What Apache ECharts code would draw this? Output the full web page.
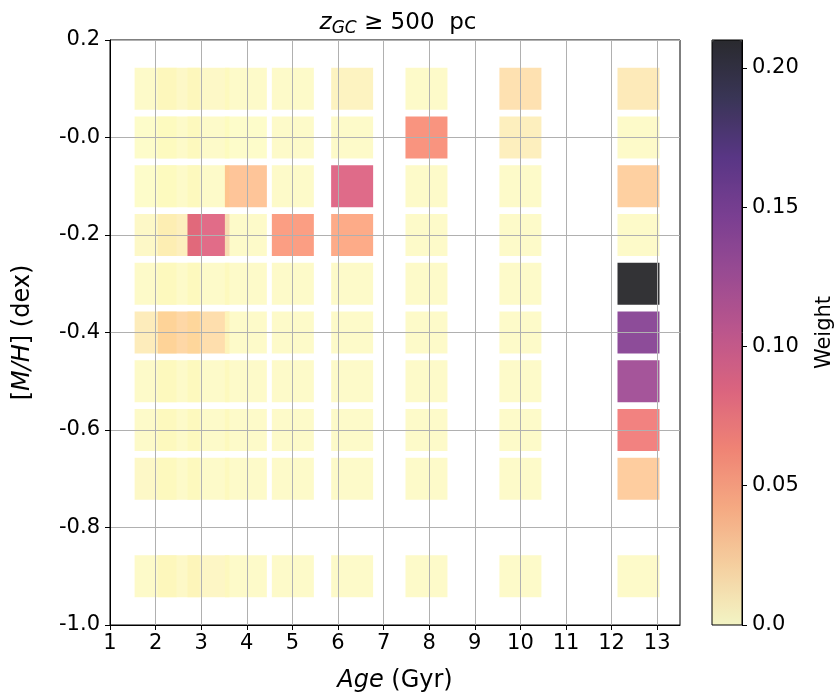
<!DOCTYPE html>
<html>
<head>
<meta charset="utf-8">
<script src="https://cdn.jsdelivr.net/npm/echarts@6/dist/echarts.min.js"></script>
<style>
  html, body { margin: 0; padding: 0; background: #fff; }
  #chart { width: 840px; height: 695px; }
</style>
</head>
<body>
<div id="chart"></div>
<script>
// Stellar population weights on the age / metallicity grid (z_GC >= 500 pc)
const ages = [2.0, 2.51, 3.16, 3.98, 5.01, 6.31, 7.94, 10.0, 12.59];
const metallicities = [0.1, 0.0, -0.1, -0.2, -0.3, -0.4, -0.5, -0.6, -0.7, -0.9];

// one row per metallicity, one entry per age
const weights = [
  [0.002, 0.003, 0.003, 0.002, 0.002, 0.006, 0.002, 0.016, 0.011],
  [0.001, 0.002, 0.002, 0.001, 0.002, 0.002, 0.059, 0.008, 0.002],
  [0.001, 0.002, 0.002, 0.032, 0.002, 0.088, 0.002, 0.002, 0.026],
  [0.003, 0.008, 0.086, 0.002, 0.053, 0.046, 0.002, 0.002, 0.002],
  [0.002, 0.002, 0.002, 0.002, 0.002, 0.002, 0.002, 0.002, 0.210],
  [0.010, 0.022, 0.018, 0.002, 0.002, 0.002, 0.002, 0.002, 0.140],
  [0.002, 0.002, 0.002, 0.002, 0.002, 0.002, 0.002, 0.002, 0.125],
  [0.002, 0.002, 0.002, 0.002, 0.002, 0.002, 0.002, 0.002, 0.070],
  [0.003, 0.002, 0.002, 0.002, 0.002, 0.002, 0.002, 0.002, 0.027],
  [0.002, 0.003, 0.004, 0.002, 0.002, 0.002, 0.002, 0.002, 0.002]
];

const xTicks = [1, 2, 3, 4, 5, 6, 7, 8, 9, 10, 11, 12, 13];
const yTicks = [-1.0, -0.8, -0.6, -0.4, -0.2, 0.0, 0.2];
const weightTicks = [0, 0.05, 0.10, 0.15, 0.20];
const weightMax = 0.21;

// reversed magma colormap, drawn at 80% opacity
const magmaR = ['#fcfdbf', '#fecf92', '#fe9f6d', '#f7705c', '#de4968', '#b73779',
                '#8c2981', '#641a80', '#3b0f70', '#140e36', '#000004'];
function withAlpha(hex, a) {
  const r = parseInt(hex.slice(1, 3), 16), g = parseInt(hex.slice(3, 5), 16), b = parseInt(hex.slice(5, 7), 16);
  return 'rgba(' + r + ',' + g + ',' + b + ',' + a + ')';
}

// points in ascending age within each row so younger squares sit underneath
const points = [];
metallicities.forEach((m, i) => {
  ages.forEach((a, j) => { points.push([a, m, weights[i][j]]); });
});

const FONT = 'DejaVu Sans';
const chart = echarts.init(document.getElementById('chart'));

chart.setOption({
  animation: false,
  backgroundColor: '#fff',
  textStyle: { fontFamily: FONT },
  title: {
    text: '{i|z}{sub|GC}{n| ≥ 500  pc}',
    left: 393, top: 5, textAlign: 'center',
    textStyle: {
      fontWeight: 'normal',
      rich: {
        i: { fontFamily: FONT, fontStyle: 'italic', fontWeight: 'normal', fontSize: 23, color: '#000' },
        sub: { fontFamily: FONT, fontStyle: 'italic', fontWeight: 'normal', fontSize: 17, color: '#000', padding: [10, 0, 0, 0] },
        n: { fontFamily: FONT, fontWeight: 'normal', fontSize: 23, color: '#000' }
      }
    }
  },
  grid: [
    { left: 110, top: 40, width: 570, height: 585, outerBoundsMode: 'none', containLabel: false,
      show: true, borderColor: '#000', borderWidth: 1, backgroundColor: 'transparent' },
    // frame around the colour bar
    { left: 712, top: 40, width: 30, height: 585, outerBoundsMode: 'none', containLabel: false,
      show: true, borderColor: '#000', borderWidth: 1, backgroundColor: 'transparent', z: 5 }
  ],
  xAxis: [
    {
      gridIndex: 0, type: 'value', min: 1, max: 13.5, interval: 1, z: 5,
      name: '{i|Age} (Gyr)', nameLocation: 'middle', nameGap: 44,
      nameTextStyle: { fontSize: 24, color: '#000', rich: { i: { fontStyle: 'italic', fontSize: 24, color: '#000' } } },
      axisLine: { onZero: false, lineStyle: { color: '#000', width: 1 } },
      axisTick: { length: 5, lineStyle: { color: '#000' }, customValues: xTicks },
      axisLabel: {
        fontSize: 21, color: '#000', margin: 8, customValues: xTicks,
        formatter: v => (Math.abs(v - Math.round(v)) < 1e-6 ? String(Math.round(v)) : '')
      },
      splitLine: { show: true, lineStyle: { color: '#b0b0b0', width: 1 } }
    },
    { gridIndex: 1, type: 'value', min: 0, max: 1, show: false }
  ],
  yAxis: [
    {
      gridIndex: 0, type: 'value', min: -1.0, max: 0.2, interval: 0.2, z: 5,
      name: '[{i|M/H}] (dex)', nameLocation: 'middle', nameGap: 75,
      nameTextStyle: { fontSize: 24, color: '#000', rich: { i: { fontStyle: 'italic', fontSize: 24, color: '#000' } } },
      axisLine: { onZero: false, lineStyle: { color: '#000', width: 1 } },
      axisTick: { length: 5, lineStyle: { color: '#000' }, customValues: yTicks },
      axisLabel: {
        fontSize: 21, color: '#000', margin: 10, customValues: yTicks,
        formatter: v => (Math.abs(v) < 1e-9 ? '-0.0' : v.toFixed(1))
      },
      splitLine: { show: true, lineStyle: { color: '#b0b0b0', width: 1 } }
    },
    { gridIndex: 1, type: 'value', min: 0, max: 1, show: false },
    // colour bar scale, placed along the right edge of the colour bar
    {
      gridIndex: 0, type: 'value', position: 'right', offset: 62,
      min: 0, max: weightMax, interval: 0.05, z: 8,
      name: 'Weight', nameLocation: 'middle', nameGap: 72, nameRotate: 90,
      nameTextStyle: { fontSize: 21, color: '#000' },
      axisLine: { show: true, onZero: false, lineStyle: { color: '#000', width: 1 } },
      axisTick: { show: true, inside: false, length: 5, lineStyle: { color: '#000', width: 1 }, customValues: weightTicks },
      axisLabel: {
        fontSize: 21, color: '#000', margin: 10, customValues: weightTicks,
        formatter: v => (v < 1e-9 ? '0.0' : v.toFixed(2))
      },
      splitLine: { show: false }
    }
  ],
  visualMap: {
    type: 'continuous',
    seriesIndex: 0,
    min: 0, max: weightMax,
    calculable: false,
    orient: 'vertical',
    left: 712, top: 40,
    itemWidth: 30, itemHeight: 585,
    padding: 0,
    text: null,
    showLabel: false,
    hoverLink: false,
    z: 1,
    inRange: { color: magmaR.map(c => withAlpha(c, 0.8)) }
  },
  series: [{
    type: 'scatter',
    xAxisIndex: 0, yAxisIndex: 0,
    symbol: 'rect',
    symbolSize: 42,
    data: points,
    itemStyle: { borderWidth: 0, opacity: 1 },
    z: 2
  }]
});
</script>
</body>
</html>
